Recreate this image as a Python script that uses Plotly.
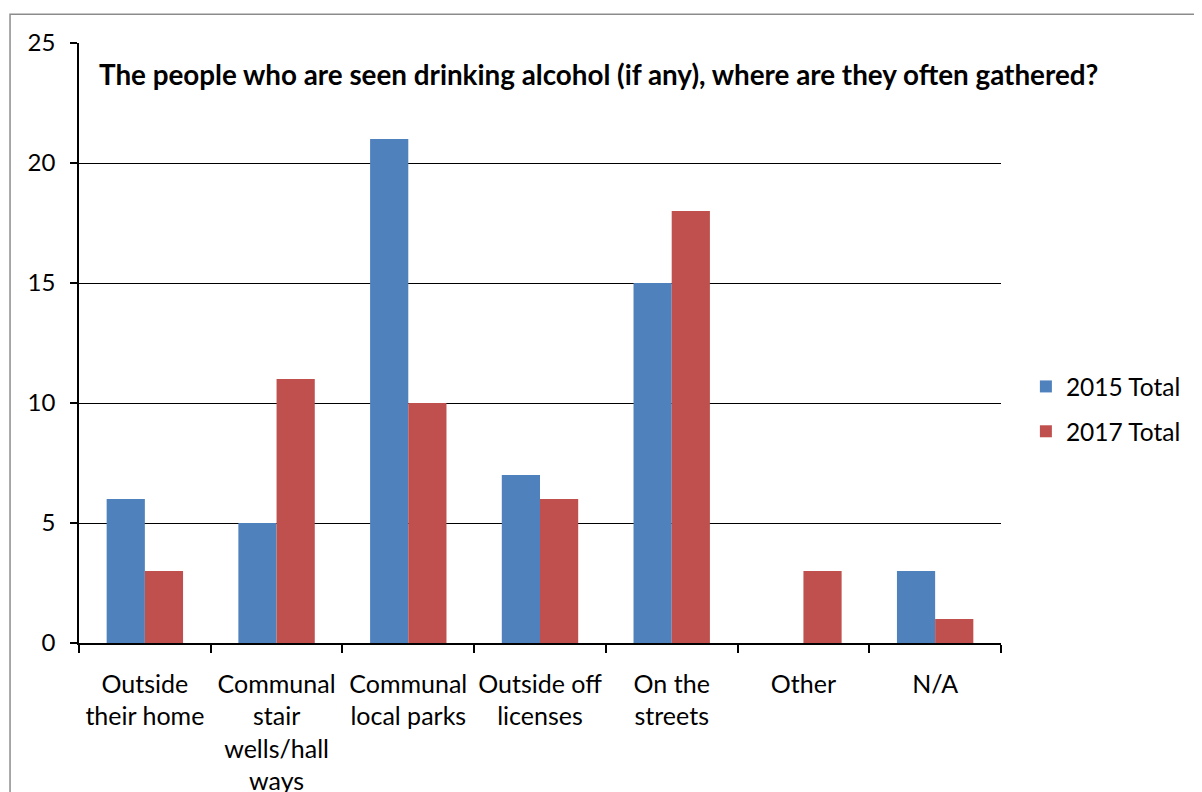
import plotly.graph_objects as go

categories = ["Outside<br>their home", "Communal<br>stair<br>wells/hall<br>ways", "Communal<br>local parks",
              "Outside off<br>licenses", "On the<br>streets", "Other", "N/A"]
values_2015 = [6, 5, 21, 7, 15, 0, 3]
values_2017 = [3, 11, 10, 6, 18, 3, 1]
series_names = ["2015 Total", "2017 Total"]
title_text = "The people who are seen drinking alcohol (if any), where are they often gathered?"

FONT = "Lato"

fig = go.Figure()
fig.add_trace(go.Bar(x=categories, y=values_2015, name=series_names[0], marker_color="#4F81BD",
                     marker_line_width=0, legendgroup="a"))
fig.add_trace(go.Bar(x=categories, y=values_2017, name=series_names[1], marker_color="#C0504D",
                     marker_line_width=0, legendgroup="b"))

fig.update_layout(
    width=1202, height=792,
    margin=dict(l=71, r=209, t=35, b=157, autoexpand=False),
    paper_bgcolor="white", plot_bgcolor="white",
    barmode="group", bargap=0.42, bargroupgap=0,
    font=dict(family=FONT, size=24, color="black"),
    showlegend=True,
    legend=dict(x=1.027, y=0.39, xanchor="left", yanchor="middle", font=dict(size=24.5, color="black"),
                itemwidth=30, tracegroupgap=10, bgcolor="rgba(0,0,0,0)"),
    xaxis=dict(showline=True, linecolor="black", linewidth=1.5, ticks="outside", tickson="boundaries",
               ticklen=8, tickcolor="black", tickwidth=1.5, showgrid=False, tickangle=0, automargin=False,
               tickfont=dict(family=FONT, size=25, color="black"), ticklabelstandoff=18),
    yaxis=dict(range=[0, 25], dtick=5, showline=True, linecolor="black", linewidth=1.5, ticks="outside",
               ticklen=7, tickcolor="black", tickwidth=1.5, showgrid=True, gridcolor="black", gridwidth=1.3,
               zeroline=False, automargin=False,
               tickfont=dict(family=FONT, size=24, color="black"), ticklabelstandoff=10),
    annotations=[dict(text="<b>" + title_text + "</b>", xref="paper", yref="paper", x=0.0197, y=0.947,
                      xanchor="left", yanchor="middle", showarrow=False,
                      font=dict(family=FONT, size=27.8, color="black"))],
    shapes=[dict(type="rect", xref="paper", yref="paper", x0=-0.0748, y0=-0.4, x1=1.4, y1=1.048,
                 line=dict(color="#8c8c8c", width=1.5), layer="below")],
)

fig.write_html("out.html")
